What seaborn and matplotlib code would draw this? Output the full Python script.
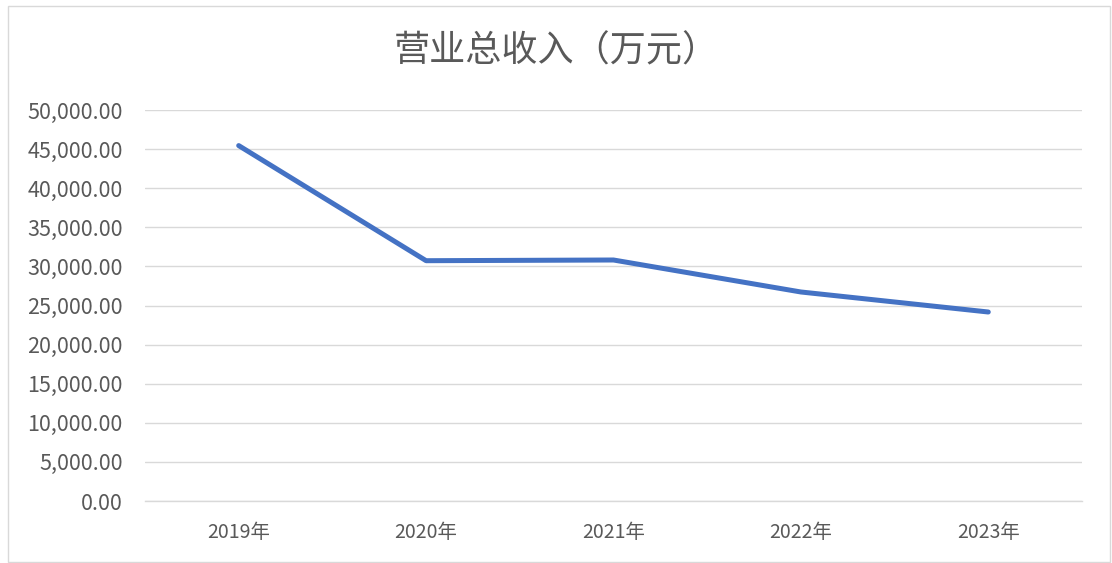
import pandas as pd
import matplotlib.pyplot as plt
import matplotlib.ticker as mticker
from matplotlib.patches import Rectangle
import seaborn as sns

# Data (万元)
years = ["2019年", "2020年", "2021年", "2022年", "2023年"]
revenue = [45450, 30730, 30820, 26730, 24170]
title = "营业总收入（万元）"

sns.set_theme(style="white")
plt.rcParams['font.family'] = ['Noto Sans CJK SC', 'DejaVu Sans']

def main():
    df = pd.DataFrame({"year": years, "revenue": revenue})

    fig = plt.figure(figsize=(11.12, 5.63), dpi=100)
    ax = fig.add_axes([0.1304, 0.1101, 0.8426, 0.6945])

    sns.lineplot(data=df, x="year", y="revenue", ax=ax, color="#4472C4",
                 linewidth=3.6, solid_capstyle="round", solid_joinstyle="round",
                 sort=False)

    ax.set_xlim(-0.5, len(years) - 0.5)
    ax.set_ylim(0, 50000)
    ax.set_yticks(range(0, 50001, 5000))
    ax.yaxis.set_major_formatter(mticker.StrMethodFormatter("{x:,.2f}"))
    ax.grid(axis="y", color="#D9D9D9", linewidth=1)
    ax.set_axisbelow(True)
    for s in ["top", "right", "left"]:
        ax.spines[s].set_visible(False)
    ax.spines["bottom"].set_color("#D9D9D9")
    ax.spines["bottom"].set_linewidth(1)
    ax.tick_params(axis="y", length=0, pad=16, labelsize=15.5, labelcolor="#595959")
    ax.tick_params(axis="x", length=0, pad=15, labelsize=14, labelcolor="#595959")
    ax.set_xlabel("")
    ax.set_ylabel("")

    fig.text(0.5, 0.908, title, ha="center", va="center", fontsize=26, color="#595959")

    # chart border like Excel
    fig.patches.append(Rectangle((8 / 1112, 1 - 562 / 563), 1102 / 1112, 556 / 563,
                                 transform=fig.transFigure, fill=False,
                                 edgecolor="#D9D9D9", linewidth=1))

    fig.savefig("out.png", dpi=100)
    plt.close(fig)

if __name__ == "__main__":
    main()
